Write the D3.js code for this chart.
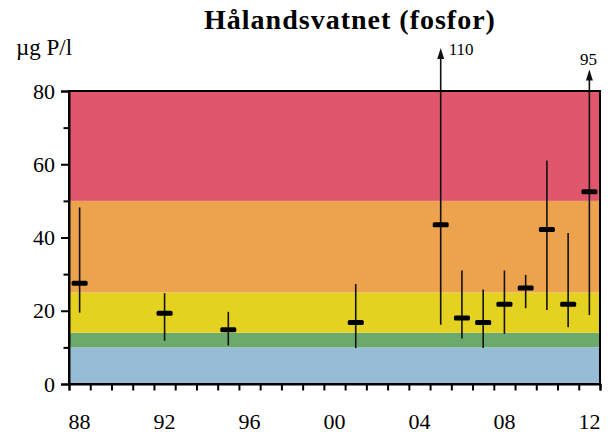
<!DOCTYPE html>
<html>
<head>
<meta charset="utf-8">
<script src="https://cdn.jsdelivr.net/npm/d3@7"></script>
<style>
  body { margin: 0; background: #fff; }
  svg { display: block; }
  svg text { font-family: "Liberation Serif", "Times New Roman", serif; fill: #000; }
</style>
</head>
<body>
<svg></svg>
<script>
let width = 611,
    height = 436;

// Data
let years = [1988, 1992, 1995, 2001, 2005, 2006, 2007, 2008, 2009, 2010, 2011, 2012];
let means = [27.5, 19.3, 14.8, 16.8, 43.5, 18.0, 16.8, 21.8, 26.2, 42.2, 21.8, 52.5];
let mins  = [19.5, 11.8, 10.5, 9.8, 16.2, 12.4, 9.8, 13.7, 20.7, 20.2, 15.5, 18.8];
let maxs  = [48.2, 24.8, 19.7, 27.3, 110, 31.0, 25.8, 31.0, 29.8, 61.0, 41.2, 95];

// condition classes (µg P/l)
let classBreaks = [0, 10, 14, 25, 50, 80];
let classColors = ["#97bdd6", "#6baa6b", "#e5d120", "#eda24d", "#e0576d"];

let allYears = d3.range(1988, 2013);
let yMajor = [0, 20, 40, 60, 80];
let yMinor = [10, 30, 50, 70];
let xLabelYears = [1988, 1992, 1996, 2000, 2004, 2008, 2012];

let margin = { top: 91, right: 11, bottom: 52, left: 69 };

let svg = d3.select("svg")
    .attr("width", width)
    .attr("height", height)
    .attr("viewBox", "0 0 " + width + " " + height);

let x = d3.scaleBand()
    .domain(allYears)
    .range([margin.left, width - margin.right])
    .padding(0);

let y = d3.scaleLinear()
    .domain([0, 80])
    .range([height - margin.bottom, margin.top]);

// values above 80 get a short compressed arrow
let yOver = d3.scaleLinear()
    .domain([80, 110])
    .range([y(80), y(80) - 43]);

// class bands
svg.append("g")
    .selectAll("rect")
    .data(classColors)
    .enter()
    .append("rect")
    .attr("x", margin.left)
    .attr("width", width - margin.right - margin.left)
    .attr("y", (d, i) => y(classBreaks[i + 1]))
    .attr("height", (d, i) => y(classBreaks[i]) - y(classBreaks[i + 1]))
    .attr("fill", d => d);

// whiskers
let cx = d => x(d) + x.bandwidth() / 2;

svg.append("g")
    .selectAll("line")
    .data(years)
    .enter()
    .append("line")
    .attr("x1", d => cx(d))
    .attr("x2", d => cx(d))
    .attr("y1", (d, i) => y(mins[i]))
    .attr("y2", (d, i) => maxs[i] > 80 ? yOver(maxs[i]) + 6 : y(maxs[i]))
    .attr("stroke", "#111")
    .attr("stroke-width", 1.6);

// arrow heads for values off the chart
let over = years.map((d, i) => i).filter(i => maxs[i] > 80);

svg.append("g")
    .selectAll("path")
    .data(over)
    .enter()
    .append("path")
    .attr("d", i => {
        let px = cx(years[i]), py = yOver(maxs[i]);
        return "M" + px + "," + py + "L" + (px - 3.5) + "," + (py + 11) + "L" + (px + 3.5) + "," + (py + 11) + "Z";
    })
    .attr("fill", "#111");

svg.append("g")
    .selectAll("text")
    .data(over)
    .enter()
    .append("text")
    .attr("x", i => years[i] == 2012 ? cx(years[i]) - 1 : cx(years[i]) + 8)
    .attr("y", i => years[i] == 2012 ? yOver(maxs[i]) - 5 : yOver(maxs[i]) + 7)
    .attr("text-anchor", i => years[i] == 2012 ? "middle" : "start")
    .style("font-size", "17px")
    .text(i => maxs[i]);

// mean markers
svg.append("g")
    .selectAll("rect")
    .data(years)
    .enter()
    .append("rect")
    .attr("x", d => cx(d) - 8)
    .attr("y", (d, i) => y(means[i]) - 2.5)
    .attr("width", 16)
    .attr("height", 5)
    .attr("rx", 1.5)
    .attr("fill", "#000");

// frame
svg.append("rect")
    .attr("x", margin.left)
    .attr("y", margin.top)
    .attr("width", width - margin.right - margin.left)
    .attr("height", height - margin.bottom - margin.top)
    .attr("fill", "none")
    .attr("stroke", "#000")
    .attr("stroke-width", 2);

// y axis
let yAxis = svg.append("g")
    .attr("transform", "translate(" + margin.left + ",0)")
    .call(d3.axisLeft(y).tickValues(yMajor).tickSize(8).tickPadding(6));
yAxis.select(".domain").attr("stroke-width", 2);
yAxis.selectAll(".tick line").attr("stroke-width", 2);
yAxis.selectAll("text").style("font-size", "22px");

let yMinorAxis = svg.append("g")
    .attr("transform", "translate(" + margin.left + ",0)")
    .call(d3.axisLeft(y).tickValues(yMinor).tickSize(5.5).tickFormat(""));
yMinorAxis.select(".domain").remove();
yMinorAxis.selectAll(".tick line").attr("stroke-width", 2);

// x axis: ticks on year boundaries, labels centred on years
let xEdges = d3.scaleLinear()
    .domain([1988, 2013])
    .range([margin.left, width - margin.right]);

let xAxis = svg.append("g")
    .attr("transform", "translate(0," + (height - margin.bottom) + ")")
    .call(d3.axisBottom(xEdges).tickValues(d3.range(1988, 2014)).tickSize(6.5).tickFormat(""));
xAxis.select(".domain").attr("stroke-width", 2);
xAxis.selectAll(".tick line").attr("stroke-width", 2);

svg.append("g")
    .selectAll("text")
    .data(xLabelYears)
    .enter()
    .append("text")
    .attr("x", d => cx(d))
    .attr("y", 429)
    .attr("text-anchor", "middle")
    .style("font-size", "22px")
    .text(d => d3.format("02")(d % 100));

// titles
svg.append("text")
    .attr("x", 350)
    .attr("y", 29)
    .attr("text-anchor", "middle")
    .style("font-size", "28px")
    .style("font-weight", "bold")
    .style("letter-spacing", "1px")
    .text("Hålandsvatnet (fosfor)");

svg.append("text")
    .attr("x", 16)
    .attr("y", 55)
    .style("font-size", "23px")
    .text("µg P/l");
</script>
</body>
</html>
